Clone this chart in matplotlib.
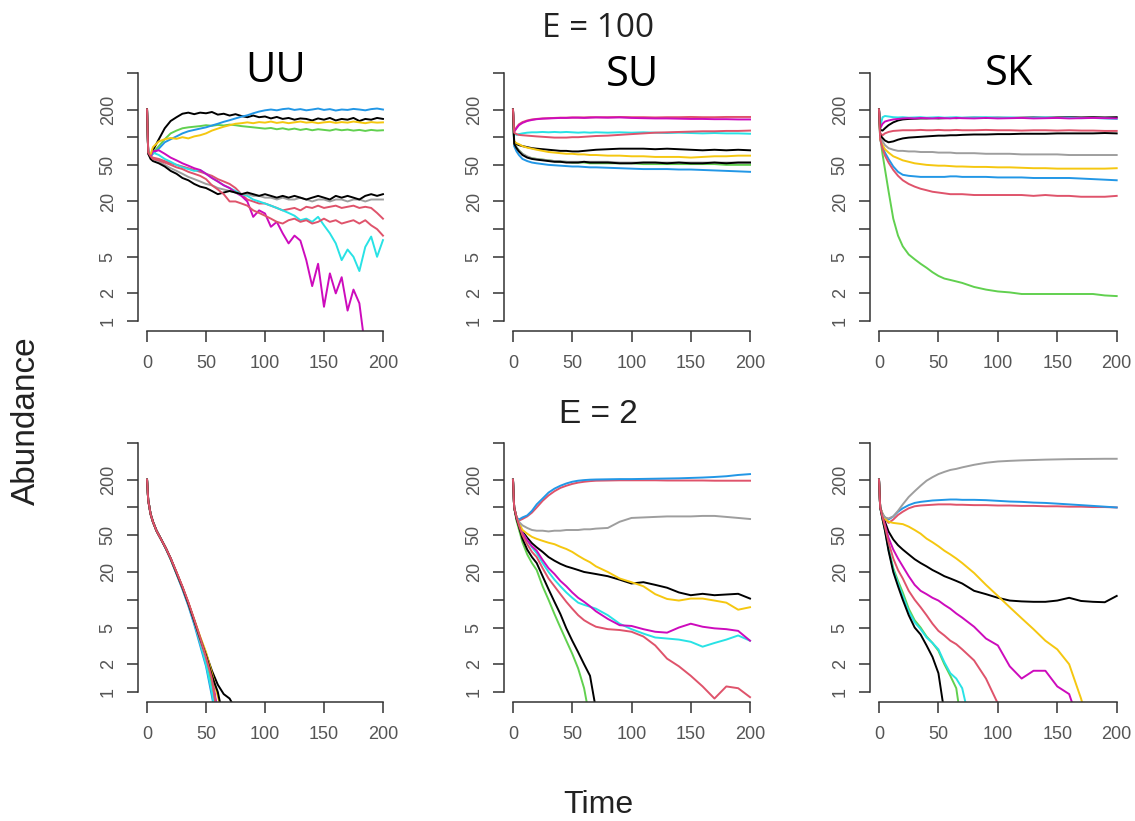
import matplotlib
matplotlib.use("Agg")
import matplotlib.pyplot as plt
from matplotlib.ticker import FixedLocator, FixedFormatter, NullLocator

# ---------------- time grids ----------------
TIME_FINE = [0, 1, 3, 5, 10, 15, 20, 25, 30, 35, 40, 45, 50, 55, 60, 65, 70, 75, 80, 85, 90,
             95, 100, 105, 110, 115, 120, 125, 130, 135, 140, 145, 150, 155, 160, 165, 170,
             175, 180, 185, 190, 195, 200]
TIME = [0, 1, 3, 5, 8, 12, 16, 20, 25, 30, 35, 40, 45, 50, 55, 60, 65, 70, 80, 90, 100,
        110, 120, 130, 140, 150, 160, 170, 180, 190, 200]

# ---------------- E = 100, UU (TIME_FINE) ----------------
UU_BLACK_HI = [200, 68, 62, 72, 95, 125, 150, 165, 180, 185, 178, 185, 182,
               188, 176, 180, 172, 178, 170, 165, 172, 165, 168,
               160, 166, 158, 162, 155, 160, 158, 152, 160, 155,
               162, 152, 158, 155, 162, 150, 158, 155, 162, 158]
UU_RED_HI = [200, 68, 62, 60, 58, 55, 52, 50, 48, 46, 44, 42, 40,
             38, 35, 33, 31, 28, 24, 21, 20, 19, 19,
             18, 17, 16, 16.5, 17, 16, 17.5, 17, 18, 17,
             17.5, 18, 17, 17.5, 18, 17, 17.5, 17, 15, 13]
UU_GREEN = [200, 68, 62, 68, 80, 95, 110, 118, 125, 128, 130, 132, 135,
            133, 136, 134, 137, 135, 132, 130, 128, 126, 124,
            126, 122, 125, 121, 124, 120, 123, 119, 122, 120,
            118, 122, 119, 121, 118, 120, 117, 120, 118, 119]
UU_BLUE = [200, 68, 62, 66, 75, 88, 95, 102, 110, 116, 120, 124, 128,
           134, 140, 147, 153, 160, 167, 173, 182, 190, 196,
           200, 196, 202, 205, 198, 202, 196, 200, 205, 198,
           202, 195, 200, 198, 203, 200, 196, 202, 205, 200]
UU_CYAN = [200, 68, 64, 68, 64, 58, 54, 50, 47, 45, 43, 44, 40,
           36, 33, 30, 28, 26, 24, 23, 21, 20, 19,
           18, 17, 16, 15, 14, 12.5, 13, 12, 13.6, 11,
           9, 7, 4.6, 6, 5, 3.5, 6.4, 8.3, 5, 7.6]
UU_MAGENTA = [200, 68, 62, 70, 72, 66, 60, 56, 52, 49, 46, 44, 40,
              36, 33, 30, 28, 25, 23, 20, 13.6, 16, 14.8,
              10.6, 12, 9, 7, 8.5, 7.5, 4.6, 2.4, 4.2, 1.43,
              3.3, 2, 3, 1.3, 2.2, 1.56, 0.5]
UU_YELLOW = [200, 68, 65, 78, 90, 95, 98, 96, 100, 97, 102, 105, 110,
             118, 124, 130, 135, 140, 142, 145, 142, 146, 144,
             148, 143, 146, 142, 145, 148, 144, 146, 142, 145,
             147, 143, 146, 144, 148, 145, 142, 146, 144, 145]
UU_GRAY = [200, 66, 60, 58, 55, 50, 46, 43, 40, 37, 35, 33, 31,
           30, 28, 27, 26, 25, 24, 24, 23, 23, 22,
           22, 21, 22, 21, 21, 22, 21, 20, 21, 21,
           20, 21, 21, 20, 21, 21, 20, 21, 21, 21]
UU_BLACK_LO = [200, 66, 58, 55, 52, 48, 43, 40, 36, 34, 31, 29, 28,
               26, 24, 25, 26, 25, 24, 25, 24, 23, 24,
               23, 22, 23, 22, 23, 22, 21, 22, 23, 22,
               21, 23, 22, 23, 22, 21, 23, 24, 23, 24]
UU_RED_LO = [200, 68, 62, 58, 56, 53, 50, 47, 45, 42, 40, 38, 35,
             30, 27, 24, 20, 20, 19, 18, 16, 15, 14,
             13, 12, 11.5, 12.5, 13, 12, 12.5, 11.5, 12, 13,
             12, 12.5, 11.5, 12, 12.5, 11.5, 12.5, 11, 10, 8.5]

# ---------------- E = 100, SU (TIME) ----------------
SU_BLACK_HI = [200, 90, 84, 82, 80, 78, 76, 75, 74, 73, 72, 71, 71, 70, 70, 71, 72, 73,
               74, 75, 75, 75, 74, 75, 74, 73, 72, 73, 72, 73, 72]
SU_RED_HI = [200, 115, 128, 138, 146, 152, 156, 158, 160, 161, 162, 163, 163, 164, 164, 164, 165, 165,
             165, 166, 165, 165, 164, 165, 165, 166, 165, 165, 166, 166, 166]
SU_GREEN = [200, 85, 78, 72, 66, 61, 59, 58, 57, 56, 55, 54, 54, 53, 53, 53, 52, 52,
            52, 52, 52, 51, 51, 51, 51, 51, 51, 51, 50, 50, 50]
SU_BLUE = [200, 80, 70, 64, 58, 55, 53, 52, 51, 50, 49.5, 49, 48.5, 48, 48, 47.5, 47, 47,
           46.5, 46, 45.5, 45, 45, 45, 44.5, 44.5, 44, 43.5, 43, 42.5, 42]
SU_CYAN = [200, 110, 106, 108, 110, 112, 113, 113, 114, 113, 114, 113, 114, 113, 112, 113, 112, 113,
           112, 113, 112, 113, 112, 111, 112, 111, 110, 111, 110, 110, 109]
SU_MAGENTA = [200, 115, 125, 135, 143, 150, 154, 157, 159, 160, 161, 162, 162, 163, 163, 162, 163, 164,
              163, 164, 162, 161, 160, 160, 159, 158, 158, 157, 157, 156, 156]
SU_YELLOW = [200, 90, 86, 84, 80, 77, 75, 73, 71, 69, 68, 67, 66, 66, 65, 65, 64, 64,
             63, 63, 62, 62, 61, 61, 61, 60, 61, 62, 62, 63, 63]
SU_GRAY = [200, 85, 77, 72, 66, 62, 59, 58, 57, 56, 55, 55, 54, 54, 54, 54, 54, 54,
           54, 53, 53, 53, 53, 53, 53, 53, 53, 53, 53, 53, 53]
SU_BLACK_LO = [200, 85, 76, 70, 64, 60, 58, 57, 56, 55, 54, 54, 53, 53, 53, 54, 53, 53,
               53, 52, 52, 53, 53, 52, 53, 52, 52, 53, 52, 53, 53]
SU_RED_LO = [200, 112, 108, 106, 105, 104, 103, 102, 101, 100, 99, 99, 99, 100, 100, 101, 102, 103,
             104, 106, 108, 110, 112, 113, 114, 115, 116, 116, 117, 117, 118]

# ---------------- E = 100, SK (TIME) ----------------
SK_BLACK_HI = [200, 120, 118, 125, 135, 145, 152, 156, 158, 159, 160, 160, 161, 160, 161, 162, 161, 162,
               163, 162, 163, 162, 163, 164, 163, 164, 165, 164, 165, 164, 165]
SK_RED_HI = [200, 110, 105, 110, 114, 117, 118, 119, 119, 119, 120, 119, 119, 120, 119, 119, 120, 119,
             119, 120, 119, 119, 118, 119, 119, 118, 119, 118, 118, 117, 117]
SK_GREEN = [200, 100, 65, 45, 26, 13, 8.5, 6.5, 5.3, 4.7, 4.2, 3.8, 3.4, 3.1, 2.9, 2.8, 2.7, 2.6,
            2.35, 2.2, 2.1, 2.05, 1.97, 1.97, 1.97, 1.97, 1.97, 1.97, 1.97, 1.9, 1.87]
SK_BLUE = [200, 95, 78, 68, 58, 48, 42, 39, 38, 37.5, 37, 37, 37, 37, 37, 37.5, 37.5, 37,
           37, 37, 36.5, 36.5, 36.5, 36, 36, 36, 36, 35.5, 35, 34.5, 34]
SK_CYAN = [200, 130, 165, 170, 168, 165, 164, 165, 163, 164, 165, 163, 164, 165, 163, 164, 165, 163,
           164, 165, 163, 164, 162, 163, 164, 162, 163, 161, 162, 160, 158]
SK_MAGENTA = [200, 125, 140, 148, 152, 156, 158, 160, 161, 160, 162, 161, 160, 162, 161, 160, 162, 161,
              160, 162, 160, 161, 162, 160, 161, 162, 160, 161, 162, 161, 160]
SK_YELLOW = [200, 95, 82, 74, 68, 62, 59, 56, 54, 52, 51, 50, 49.5, 49, 49, 48.5, 48, 48,
             47.5, 47.5, 47, 47, 46.5, 46, 46, 45.5, 45.5, 45.5, 45.5, 45.5, 46]
SK_GRAY = [200, 100, 90, 82, 76, 73, 71, 71, 70, 70, 69, 69, 69, 68, 68, 68, 67, 67,
           67, 66, 66, 66, 65, 65, 65, 65, 64, 64, 64, 64, 64]
SK_BLACK_MID = [200, 105, 98, 92, 88, 90, 94, 97, 99, 100, 101, 102, 103, 104, 104, 105, 105, 106,
                107, 107, 108, 108, 109, 109, 109, 110, 110, 110, 110, 111, 110]
SK_RED_LO = [200, 95, 75, 63, 53, 44, 38, 34, 31, 29, 27.5, 26.5, 25.5, 25, 24.5, 24, 24, 24,
             23.5, 23.5, 23.5, 23.5, 23.5, 23, 23.5, 23, 23, 22.5, 22.5, 22.5, 23]

# ---------------- E = 2, UU (TIME) ----------------
UU2_BLACK_A = [200, 120, 85, 70, 56, 45, 36, 28, 19.5, 13.5, 9.2, 6.0, 3.9, 2.6, 1.7, 1.2, 0.95, 0.85, 0.5]
UU2_RED_A = [200, 120, 85, 70, 56, 45, 36, 28, 19.8, 13.8, 9.3, 6.0, 3.7, 2.3, 1.3, 0.6]
UU2_GREEN = [200, 120, 85, 70, 56, 45, 36, 27.5, 19.2, 13.3, 8.9, 5.7, 3.5, 2.2, 1.2, 0.5]
UU2_BLUE = [200, 120, 85, 70, 56, 45, 35.5, 27.5, 19, 13, 8.6, 5.4, 3.2, 1.9, 0.9, 0.4]
UU2_CYAN = [200, 120, 85, 70, 56, 45, 35.5, 27.8, 19.3, 13.4, 8.9, 5.7, 3.4, 2.0, 1.0, 0.4]
UU2_MAGENTA = [200, 120, 85, 70, 56, 45, 36, 28, 19.6, 13.6, 9.1, 5.9, 3.7, 2.4, 1.5, 0.6]
UU2_YELLOW = [200, 120, 85, 70, 56, 45, 36, 28, 19.7, 13.7, 9.3, 6.1, 4.0, 2.7, 1.6, 0.9, 0.5]
UU2_GRAY = [200, 120, 85, 70, 56, 45, 36, 28, 19.5, 13.5, 9.0, 5.8, 3.6, 2.3, 1.4, 0.5]
UU2_BLACK_B = [200, 120, 85, 70, 56, 45, 36, 28, 19.5, 13.6, 9.1, 5.9, 3.8, 2.5, 1.5, 1.0, 0.5]
UU2_RED_B = [200, 120, 85, 70, 56, 45, 36, 28.2, 19.9, 13.9, 9.4, 6.1, 3.9, 2.4, 1.4, 0.5]

# ---------------- E = 2, SU (TIME) ----------------
SU2_BLACK_HI = [200, 100, 78, 66, 55, 47, 41, 37, 33, 29, 26.5, 24.5, 23, 22, 21, 20, 19.5, 19,
                18, 16.5, 15, 15.5, 14.5, 13.5, 12, 11.2, 11.6, 11.2, 11.4, 11.6, 10.3]
SU2_RED_HI = [200, 100, 78, 72, 75, 80, 88, 100, 118, 135, 150, 163, 172, 180, 186, 190, 193, 195,
              196, 197, 197, 197, 197, 196, 196, 196, 196, 195, 195, 195, 195]
SU2_GREEN = [200, 100, 72, 58, 42, 31, 25, 21, 14, 10, 7, 5, 3.6, 2.6, 1.8, 1.1, 0.5]
SU2_BLUE = [200, 100, 78, 74, 78, 82, 92, 108, 125, 145, 160, 172, 182, 190, 195, 198, 200, 201,
            202, 203, 203, 204, 205, 206, 207, 209, 211, 214, 218, 225, 230]
SU2_CYAN = [200, 100, 78, 66, 53, 44, 37, 32, 25, 20, 16.5, 14, 12, 10.5, 9.3, 8.8, 8.4, 8.0,
            6.8, 5.5, 4.8, 4.3, 3.9, 3.8, 3.7, 3.5, 3.1, 3.4, 3.7, 4.1, 3.6]
SU2_MAGENTA = [200, 100, 78, 66, 53, 44, 38, 34, 27, 22, 19, 16, 14, 12, 10.5, 9.5, 8.5, 7.5,
               6.2, 5.3, 5.2, 4.8, 4.5, 4.4, 5.0, 5.5, 5.1, 4.9, 4.8, 4.6, 3.6]
SU2_YELLOW = [200, 100, 78, 68, 57, 52, 48, 45.7, 43.5, 41.5, 40, 37.5, 35.5, 33, 30, 27.5, 25.5, 23,
              20, 17, 15.5, 14, 11.5, 10.2, 9.8, 10.3, 10.3, 9.8, 9.3, 7.8, 8.3]
SU2_GRAY = [200, 100, 78, 70, 64, 60, 57, 56, 56, 55, 56, 56, 57, 57, 57, 58, 58, 59,
            60, 70, 77, 78, 79, 80, 80, 80, 81, 81, 79, 77, 75]
SU2_BLACK_LO = [200, 100, 75, 62, 46, 35, 29, 25, 18, 13, 9.5, 7, 4.9, 3.6, 2.7, 2.0, 1.5, 0.65]
SU2_RED_LO = [200, 100, 78, 64, 50, 40, 33, 29, 22, 17, 14, 11.5, 9.5, 8, 6.8, 6.0, 5.5, 5.1,
              4.8, 4.7, 4.5, 4.0, 3.2, 2.3, 1.9, 1.5, 1.15, 0.85, 1.15, 1.1, 0.88]

# ---------------- E = 2, SK (TIME) ----------------
SK2_BLACK_HI = [200, 100, 82, 70, 55, 45, 39, 35, 31, 27.5, 25, 23, 21, 19.5, 18, 17, 16, 15,
                12.5, 11.5, 10.5, 9.8, 9.6, 9.5, 9.5, 9.8, 10.5, 9.7, 9.5, 9.4, 11.0]
SK2_RED_HI = [200, 100, 85, 76, 68, 74, 83, 90, 98, 103, 105, 106, 107, 108, 108, 108, 107, 107,
              106, 106, 105, 105, 104, 104, 103, 103, 102, 102, 101, 101, 100]
SK2_GREEN = [200, 100, 75, 58, 36, 22, 16, 12, 8, 6, 5, 4, 3.4, 2.8, 2.0, 1.5, 1.1, 0.4]
SK2_BLUE = [200, 100, 85, 78, 74, 80, 90, 98, 106, 112, 115, 117, 119, 120, 121, 122, 122, 121,
            121, 120, 118, 116, 115, 113, 112, 110, 108, 106, 104, 102, 100]
SK2_CYAN = [200, 100, 75, 57, 35, 21, 15, 11, 7.5, 5.7, 4.8, 3.9, 3.4, 2.9, 2.1, 1.6, 1.4, 1.1, 0.3]
SK2_MAGENTA = [200, 100, 80, 65, 47, 35, 28, 23, 18, 14.5, 12.5, 11.5, 10.5, 9.8, 8.8, 8, 7.1, 6.4,
               5.1, 3.8, 3.2, 1.9, 1.4, 1.7, 1.7, 1.15, 0.95, 0.4]
SK2_YELLOW = [200, 100, 85, 76, 70, 68, 67, 66, 62, 57, 52, 46, 42, 38, 34, 31, 28, 25,
              19.5, 14.5, 11, 8.3, 6.3, 4.8, 3.6, 2.9, 2.0, 0.85, 0.3]
SK2_GRAY = [200, 100, 85, 78, 76, 80, 92, 108, 130, 150, 172, 195, 213, 230, 243, 255, 262, 272,
            290, 305, 315, 320, 324, 327, 330, 332, 334, 335, 336, 337, 337]
SK2_BLACK_LO = [200, 100, 74, 56, 34, 20, 14, 10, 6.8, 5.0, 4.2, 3.2, 2.4, 1.6, 0.6]
SK2_RED_LO = [200, 100, 78, 62, 42, 28, 21, 17, 12.5, 10, 8.3, 6.8, 5.5, 4.6, 4.1, 3.6, 3.3, 2.9,
              2.2, 1.4, 0.75, 0.3]

# ---------------- colours (R 4 default palette) ----------------
BLACK, RED, GREEN, BLUE = "#000000", "#DF536B", "#61D04F", "#2297E6"
CYAN, MAGENTA, YELLOW, GRAY = "#28E2E5", "#CD0BBC", "#F5C710", "#9E9E9E"

PANELS = [
    ("UU", TIME_FINE, [(BLACK, UU_BLACK_HI), (RED, UU_RED_HI), (GREEN, UU_GREEN), (BLUE, UU_BLUE),
                       (CYAN, UU_CYAN), (MAGENTA, UU_MAGENTA), (YELLOW, UU_YELLOW), (GRAY, UU_GRAY),
                       (BLACK, UU_BLACK_LO), (RED, UU_RED_LO)]),
    ("SU", TIME, [(BLACK, SU_BLACK_HI), (RED, SU_RED_HI), (GREEN, SU_GREEN), (BLUE, SU_BLUE),
                  (CYAN, SU_CYAN), (MAGENTA, SU_MAGENTA), (YELLOW, SU_YELLOW), (GRAY, SU_GRAY),
                  (BLACK, SU_BLACK_LO), (RED, SU_RED_LO)]),
    ("SK", TIME, [(BLACK, SK_BLACK_HI), (RED, SK_RED_HI), (GREEN, SK_GREEN), (BLUE, SK_BLUE),
                  (CYAN, SK_CYAN), (MAGENTA, SK_MAGENTA), (YELLOW, SK_YELLOW), (GRAY, SK_GRAY),
                  (BLACK, SK_BLACK_MID), (RED, SK_RED_LO)]),
    ("", TIME, [(BLACK, UU2_BLACK_A), (RED, UU2_RED_A), (GREEN, UU2_GREEN), (BLUE, UU2_BLUE),
                (CYAN, UU2_CYAN), (MAGENTA, UU2_MAGENTA), (YELLOW, UU2_YELLOW), (GRAY, UU2_GRAY),
                (BLACK, UU2_BLACK_B), (RED, UU2_RED_B)]),
    ("", TIME, [(BLACK, SU2_BLACK_HI), (RED, SU2_RED_HI), (GREEN, SU2_GREEN), (BLUE, SU2_BLUE),
                (CYAN, SU2_CYAN), (MAGENTA, SU2_MAGENTA), (YELLOW, SU2_YELLOW), (GRAY, SU2_GRAY),
                (BLACK, SU2_BLACK_LO), (RED, SU2_RED_LO)]),
    ("", TIME, [(BLACK, SK2_BLACK_HI), (RED, SK2_RED_HI), (GREEN, SK2_GREEN), (BLUE, SK2_BLUE),
                (CYAN, SK2_CYAN), (MAGENTA, SK2_MAGENTA), (YELLOW, SK2_YELLOW), (GRAY, SK2_GRAY),
                (BLACK, SK2_BLACK_LO), (RED, SK2_RED_LO)]),
]

Y_TICKS = [1, 2, 5, 10, 20, 50, 100, 200, 500]
Y_LABELS = ["1", "2", "5", "", "20", "50", "", "200", ""]
X_TICKS = [0, 50, 100, 150, 200]
X_LABELS = ["0", "50", "100", "150", "200"]

# ---------------- layout (pixels) ----------------
W, H = 1135, 821
fig = plt.figure(figsize=(W / 100, H / 100), dpi=100)
fig.patch.set_facecolor("white")

COL_X = [(137.6, 392.4), (503.5, 759.5), (869.5, 1126.2)]
ROW_Y = [(63, 331), (433, 702)]
AX_COLOR = "#333333"
SANS = ["Liberation Sans", "DejaVu Sans"]
OPEN = ["Open Sans", "DejaVu Sans"]

for i, (title, tgrid, series) in enumerate(PANELS):
    r, c = divmod(i, 3)
    x0, x1 = COL_X[c]
    y0, y1 = ROW_Y[r]
    ax = fig.add_axes([x0 / W, 1 - y1 / H, (x1 - x0) / W, (y1 - y0) / H])
    for color, vals in series:
        ax.plot(tgrid[:len(vals)], vals, color=color, lw=1.4, solid_joinstyle="round")
    ax.set_yscale("log")
    ax.set_xlim(-8, 208)
    ax.set_ylim(10 ** -0.108, 10 ** 2.807)
    ax.yaxis.set_major_locator(FixedLocator(Y_TICKS))
    ax.yaxis.set_major_formatter(FixedFormatter(Y_LABELS))
    ax.yaxis.set_minor_locator(NullLocator())
    ax.xaxis.set_major_locator(FixedLocator(X_TICKS))
    ax.xaxis.set_major_formatter(FixedFormatter(X_LABELS))
    for s in ("top", "right"):
        ax.spines[s].set_visible(False)
    ax.spines["left"].set_bounds(1, 500)
    ax.spines["bottom"].set_bounds(0, 200)
    for s in ("left", "bottom"):
        ax.spines[s].set_color(AX_COLOR)
        ax.spines[s].set_linewidth(1.1)
    ax.tick_params(axis="both", direction="out", length=8, width=1.1, color=AX_COLOR,
                   labelcolor="#555555", labelsize=13)
    ax.tick_params(axis="y", pad=7)
    ax.tick_params(axis="x", pad=9)
    for lab in ax.get_yticklabels():
        lab.set_rotation(90)
        lab.set_va("center")
        lab.set_family(SANS)
    for lab in ax.get_xticklabels():
        lab.set_family(SANS)
    ax.set_facecolor("white")

# ---------------- text ----------------
def ftxt(x, y, s, **kw):
    fig.text(x / W, 1 - y / H, s, **kw)

ftxt(598, 37, "E = 100", ha="center", va="baseline", fontsize=24, family=OPEN, color="#222222")
ftxt(276, 82, "UU", ha="center", va="baseline", fontsize=30, family=OPEN, color="black")
ftxt(633, 86, "SU", ha="center", va="baseline", fontsize=30, family=OPEN, color="black")
ftxt(1009, 85, "SK", ha="center", va="baseline", fontsize=30, family=OPEN, color="black")
ftxt(598, 423, "E = 2", ha="center", va="baseline", fontsize=24, family=SANS, color="#222222")
ftxt(598, 813, "Time", ha="center", va="baseline", fontsize=23, family=SANS, color="#222222")
ftxt(35, 421, "Abundance", ha="center", va="baseline", rotation=90, rotation_mode="anchor",
     fontsize=24, family=SANS, color="#222222")

fig.savefig("out.png", dpi=100, facecolor="white")
